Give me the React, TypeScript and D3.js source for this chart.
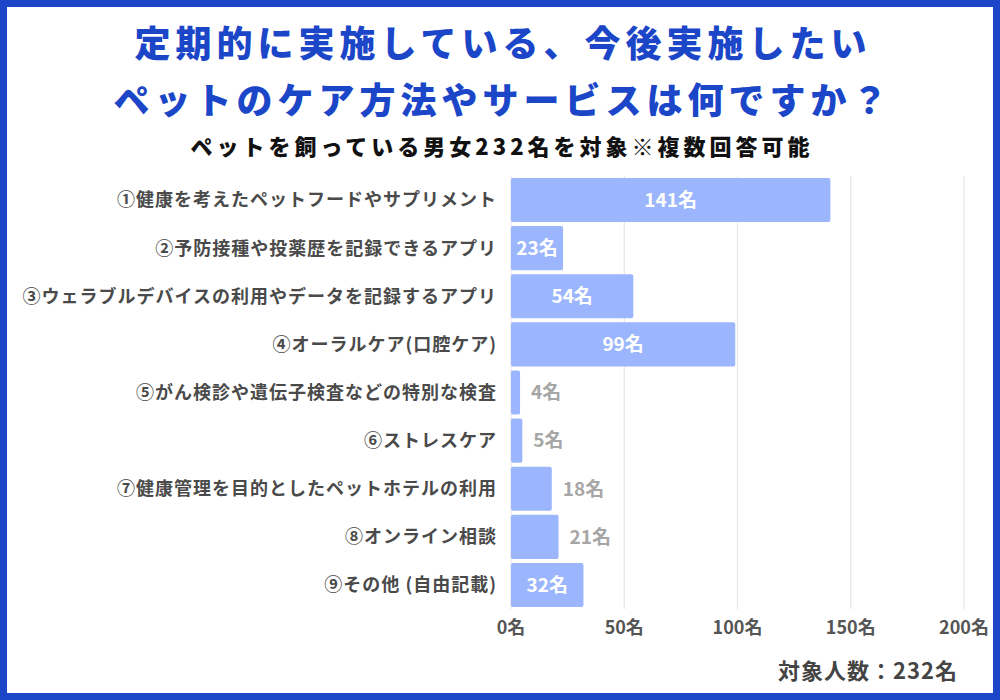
import React from "react";
import * as d3 from "d3";

const categories: string[] = [
  "①健康を考えたペットフードやサプリメント",
  "②予防接種や投薬歴を記録できるアプリ",
  "③ウェラブルデバイスの利用やデータを記録するアプリ",
  "④オーラルケア(口腔ケア)",
  "⑤がん検診や遺伝子検査などの特別な検査",
  "⑥ストレスケア",
  "⑦健康管理を目的としたペットホテルの利用",
  "⑧オンライン相談",
  "⑨その他 (自由記載)",
];
const values: number[] = [141, 23, 54, 99, 4, 5, 18, 21, 32];
const insideLabel: boolean[] = [true, true, true, true, false, false, false, false, true];
const ticks: number[] = [0, 50, 100, 150, 200];
const titleLines: string[] = [
  "定期的に実施している、今後実施したい",
  "ペットのケア方法やサービスは何ですか？",
];
const subtitle = "ペットを飼っている男女232名を対象※複数回答可能";
const footer = "対象人数：232名";

const FONT = "'Noto Sans CJK JP', 'Noto Sans', sans-serif";
const BLUE = "#1b46c8";
const BAR = "#9bb6fd";

export default function App() {
  const x = d3.scaleLinear().domain([0, 200]).range([511, 964]);
  const y = d3
    .scaleBand<string>()
    .domain(categories)
    .range([176, 609])
    .paddingInner(0.083)
    .paddingOuter(0.04);

  return (
    <svg
      width={1000}
      height={700}
      style={{ position: "absolute", left: 0, top: 0, display: "block", background: "#fff" }}
      fontFamily={FONT}
    >
      <rect x={0} y={0} width={1000} height={700} fill="#fff" />
      <rect x={3.5} y={3.5} width={993} height={693} fill="none" stroke={BLUE} strokeWidth={7} />

      {titleLines.map((t, i) => (
        <text
          key={i}
          x={500 + 3}
          y={57 + i * 57}
          textAnchor="middle"
          fontSize={36}
          fontWeight={900}
          fill={BLUE}
          style={{ letterSpacing: "5px" }}
        >
          {t}
        </text>
      ))}
      <text
        x={500 + 2}
        y={155}
        textAnchor="middle"
        fontSize={22}
        fontWeight={900}
        fill="#111"
        style={{ letterSpacing: "4px" }}
      >
        {subtitle}
      </text>

      {ticks.map((t) => (
        <line
          key={"g" + t}
          x1={x(t)}
          x2={x(t)}
          y1={176}
          y2={609}
          stroke="#e6e6e6"
          strokeWidth={1.2}
        />
      ))}

      {categories.map((c, i) => {
        const by = y(c)!;
        const bh = y.bandwidth();
        const w = x(values[i]) - x(0);
        const cy = by + bh / 2;
        return (
          <g key={c}>
            <rect x={x(0)} y={by} width={w} height={bh} rx={2} fill={BAR} />
            <text
              x={497}
              y={cy}
              dy="0.36em"
              textAnchor="end"
              fontSize={18}
              fontWeight={700}
              fill="#4a4a4a"
              style={{ letterSpacing: "1px" }}
            >
              {c}
            </text>
            {insideLabel[i] ? (
              <text
                x={x(0) + w / 2}
                y={cy}
                dy="0.36em"
                textAnchor="middle"
                fontSize={19}
                fontWeight={700}
                fill="#fff"
              >
                {values[i] + "名"}
              </text>
            ) : (
              <text
                x={x(values[i]) + 11}
                y={cy}
                dy="0.36em"
                textAnchor="start"
                fontSize={19}
                fontWeight={700}
                fill="#a6a6a6"
              >
                {values[i] + "名"}
              </text>
            )}
          </g>
        );
      })}

      {ticks.map((t) => (
        <text
          key={"t" + t}
          x={x(t)}
          y={634}
          textAnchor="middle"
          fontSize={18}
          fontWeight={700}
          fill="#555"
        >
          {t + "名"}
        </text>
      ))}

      <text
        x={958}
        y={679}
        textAnchor="end"
        fontSize={22}
        fontWeight={700}
        fill="#444"
        style={{ letterSpacing: "1px" }}
      >
        {footer}
      </text>
    </svg>
  );
}
